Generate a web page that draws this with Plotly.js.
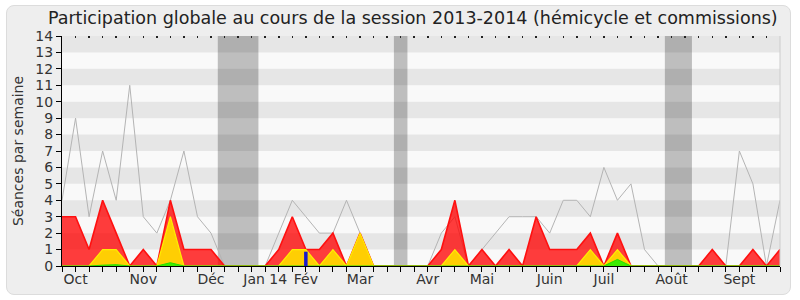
<!DOCTYPE html>
<html>
<head>
<meta charset="utf-8">
<script src="https://cdn.plot.ly/plotly-3.0.1.min.js"></script>
<style>
  html, body { margin: 0; padding: 0; background: #ffffff; }
  #wrap { position: relative; width: 800px; height: 300px; }
  #box { position: absolute; left: 6px; top: 5px; width: 783px; height: 288px;
         background: #eeeeee; border: 1px solid #dcdcdc; border-radius: 8px; }
  #chart { position: absolute; left: 0; top: 0; width: 800px; height: 300px; }
</style>
</head>
<body>
<div id="wrap"><div id="box"></div><div id="chart"></div></div>
<script>
// Weekly index (0 = first week of the session)
const weeks = Array.from({length: 54}, (_, i) => i);

// Total sessions per week (grey line)
const totalSeances = [4,9,3,7,4,11,3,2,4,7,3,2,0,0,0,0,2,4,3,2,2,4,2,0,0,0,0,0,2,3,0,1,2,3,3,3,2,4,4,3,6,4,5,1,0,0,0,0,1,0,7,5,0,4];
// Attendance (red area)
const presences = [3,3,1,4,2,0,1,0,4,1,1,1,0,0,0,0,1,3,1,1,2,0,2,0,0,0,0,0,1,4,0,1,0,1,0,3,1,1,1,2,0,2,0,0,0,0,0,0,1,0,0,1,0,1];
// Interventions (yellow area)
const interventions = [0,0,0,1,1,0,0,0,3,0,0,0,0,0,0,0,0,1,1,0,1,0,2,0,0,0,0,0,0,1,0,0,0,0,0,0,0,0,0,1,0,1,0,0,0,0,0,0,0,0,0,0,0,0];
// Long interventions (green area)
const longues = [0,0,0,0.05,0.08,0,0,0,0.2,0,0,0,0,0,0,0,0,0.03,0.03,0,0,0,0,0,0,0,0,0,0,0,0,0,0,0,0,0,0,0,0,0,0,0.4,0,0,0,0,0,0,0,0,0,0,0,0];
// Oral questions (blue bar)
const questionsX = [18];
const questionsY = [0.87];

// Parliamentary holidays (week index ranges)
const vacStart = [11.5, 24.5, 44.5];
const vacEnd   = [14.5, 25.5, 46.5];

// Month labels
const monthPos = [1, 6, 11, 15, 18, 22, 27, 31, 36, 40, 45, 50];
const monthLabels = ['Oct', 'Nov', 'Déc', 'Jan 14', 'Fév', 'Mar', 'Avr', 'Mai', 'Juin', 'Juil', 'Août', 'Sept'];

const yMax = 14;
const xMax = weeks[weeks.length - 1];

const shapes = [];
for (let i = 0; i < vacStart.length; i++) {
  shapes.push({type: 'rect', layer: 'below', xref: 'x', yref: 'y',
    x0: vacStart[i], x1: vacEnd[i], y0: 0, y1: yMax,
    fillcolor: '#bebebe', line: {width: 0}});
}
for (let k = 1; k < yMax; k += 2) {
  shapes.push({type: 'rect', layer: 'below', xref: 'x', yref: 'y',
    x0: 0, x1: xMax, y0: k, y1: k + 1,
    fillcolor: 'rgba(0,0,0,0.075)', line: {width: 0}});
}
shapes.push({type: 'line', xref: 'paper', yref: 'paper', x0: 1, x1: 1, y0: 0, y1: 1,
  line: {color: '#cccccc', width: 1}});

// blue bar as vertical segments built from the data
const qx = [], qy = [];
questionsX.forEach((xv, i) => { qx.push(xv, xv, null); qy.push(0, questionsY[i], null); });

const traces = [
  {x: weeks, y: totalSeances, type: 'scatter', mode: 'lines',
   line: {color: '#b4b4b4', width: 1}},
  {x: weeks, y: presences, type: 'scatter', mode: 'lines', fill: 'tozeroy',
   fillcolor: 'rgba(255,0,0,0.76)', line: {color: '#ff1010', width: 1.6}},
  {x: weeks, y: interventions, type: 'scatter', mode: 'lines', fill: 'tozeroy',
   fillcolor: 'rgba(255,214,0,0.95)', line: {color: '#ffee00', width: 1.2}},
  {x: weeks, y: longues, type: 'scatter', mode: 'lines', fill: 'tozeroy',
   fillcolor: 'rgba(40,240,0,0.9)', line: {color: '#22dd00', width: 1}},
  {x: qx, y: qy, type: 'scatter', mode: 'lines', connectgaps: false,
   line: {color: '#1a1acc', width: 3.5}},
  {x: [], y: [], xaxis: 'x2', type: 'scatter', mode: 'lines'}
];

const tickFont = {family: 'DejaVu Sans', size: 14, color: '#333333'};

const layout = {
  width: 800, height: 300,
  margin: {l: 62, r: 20, t: 36, b: 34, pad: 0},
  paper_bgcolor: 'rgba(0,0,0,0)',
  plot_bgcolor: '#f9f9f9',
  showlegend: false,
  hovermode: false,
  title: {text: 'Participation globale au cours de la session 2013-2014 (hémicycle et commissions)',
          font: {family: 'DejaVu Sans', size: 17.5, color: '#222222'},
          xref: 'container', x: 0.516, xanchor: 'center',
          yref: 'container', y: 0.94, yanchor: 'middle'},
  xaxis: {range: [0, xMax], tickmode: 'array', tickvals: monthPos, ticktext: monthLabels,
          ticks: '', showgrid: false, zeroline: false,
          showline: true, linecolor: '#000000', linewidth: 1,
          tickfont: tickFont,
          minor: {ticks: 'outside', tick0: 0, dtick: 1, ticklen: 5, tickcolor: '#000000', tickwidth: 1, showgrid: false}},
  xaxis2: {overlaying: 'x', side: 'top', range: [0, xMax], tick0: 0, dtick: 1,
           ticks: 'inside', ticklen: 2, tickwidth: 1.5, tickcolor: '#222222',
           showticklabels: false, showgrid: false, zeroline: false, showline: false},
  yaxis: {range: [0, yMax], dtick: 1, tick0: 0, ticks: 'outside', ticklen: 5,
          tickcolor: '#000000', showgrid: false, zeroline: false,
          showline: true, linecolor: '#000000', linewidth: 1,
          tickfont: tickFont,
          title: {text: 'Séances par semaine', font: {family: 'DejaVu Sans', size: 14, color: '#333333'}, standoff: 8}},
  shapes: shapes
};

Plotly.newPlot('chart', traces, layout, {displayModeBar: false, staticPlot: true});
</script>
</body>
</html>
